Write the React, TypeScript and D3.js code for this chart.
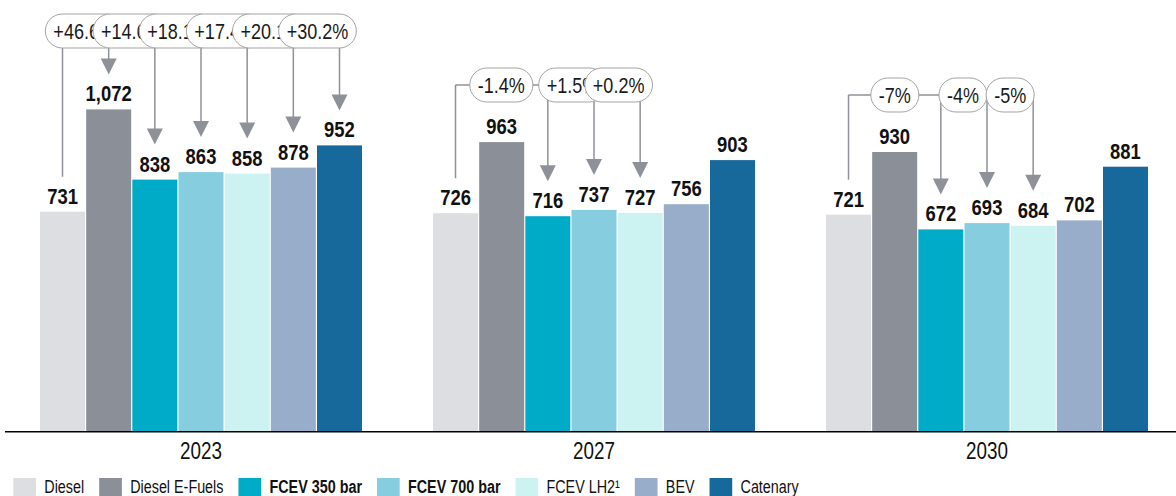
import React, { useRef, useEffect } from 'react'
import * as d3 from 'd3'

// cost per vehicle type and year
const years = ['2023', '2027', '2030']
const series = ['Diesel', 'Diesel E-Fuels', 'FCEV 350 bar', 'FCEV 700 bar', 'FCEV LH2', 'BEV', 'Catenary']
const legendLabels = ['Diesel', 'Diesel E-Fuels', 'FCEV 350 bar', 'FCEV 700 bar', 'FCEV LH2¹', 'BEV', 'Catenary']
const boldLegend = [false, false, true, true, false, false, false]
const colors = ['#dddee2', '#8b9098', '#00abc8', '#87cde0', '#ccf2f1', '#97adc9', '#17699b']

const values2023 = [731, 1072, 838, 863, 858, 878, 952]
const values2027 = [726, 963, 716, 737, 727, 756, 903]
const values2030 = [721, 930, 672, 693, 684, 702, 881]

// change vs. Diesel
const deltas2023 = ['+46.6%', '+14.6%', '+18.1%', '+17.4%', '+20.1%', '+30.2%']
const targets2023 = ['Diesel E-Fuels', 'FCEV 350 bar', 'FCEV 700 bar', 'FCEV LH2', 'BEV', 'Catenary']
const deltas2027 = ['-1.4%', '+1.5%', '+0.2%']
const targets2027 = ['FCEV 350 bar', 'FCEV 700 bar', 'FCEV LH2']
const deltas2030 = ['-7%', '-4%', '-5%']
const targets2030 = ['FCEV 350 bar', 'FCEV 700 bar', 'FCEV LH2']

// no narrow font installed, so squeeze Liberation Sans horizontally
const FONT = "'Liberation Sans', Arial, sans-serif"
const SQ = 0.82

export default function App() {
  const ref = useRef<SVGSVGElement>(null)

  useEffect(() => {
    const W = 1176, H = 496, base = 431
    const svg = d3.select(ref.current)
    svg.selectAll('*').remove()
    svg.attr('width', W).attr('height', H).style('font-family', FONT)

    const narrow = (sel: any, x: number, y: number) =>
      sel.attr('transform', `translate(${x},${y}) scale(${SQ},1)`)

    const valuesByYear = [values2023, values2027, values2030]
    const deltasByYear = [deltas2023, deltas2027, deltas2030]
    const targetsByYear = [targets2023, targets2027, targets2030]
    // pill layout per year: centre y and x offset from target bar centre
    const pillY = [31, 85, 95]
    const pillDx = [[-24.5, -23, -23, -22, -22, -22], [-46.5, -21.5, -21.5], [-46, -24, -23]]

    const x0 = d3.scaleBand().domain(years).range([0, 1188]).paddingInner(0.1807).paddingOuter(0.1018)
    const x1 = d3.scaleBand().domain(series).range([0, x0.bandwidth()]).paddingInner(0.025)
    const y = d3.scaleLinear().domain([0, 1000]).range([base, base - 300])

    const groups = svg.selectAll('g.year').data(years).join('g')
      .attr('class', 'year')
      .attr('transform', d => `translate(${x0(d)},0)`)

    groups.selectAll('rect').data((d, i) => valuesByYear[i].map((v, j) => ({ s: series[j], v })))
      .join('rect')
      .attr('x', d => x1(d.s)!)
      .attr('y', d => y(d.v))
      .attr('width', x1.bandwidth())
      .attr('height', d => base - y(d.v))
      .attr('fill', (d, j) => colors[j])

    groups.selectAll('text.val').data((d, i) => valuesByYear[i].map((v, j) => ({ s: series[j], v })))
      .join('text')
      .attr('class', 'val')
      .attr('transform', d => `translate(${x1(d.s)! + x1.bandwidth() / 2},${y(d.v) - 8}) scale(${SQ},1)`)
      .attr('text-anchor', 'middle')
      .attr('font-size', 22.5)
      .attr('font-weight', 'bold')
      .attr('fill', '#111')
      .text(d => d3.format(',')(d.v))

    // annotation brackets
    const lineColor = '#8e9298'
    groups.each(function (yr, i) {
      const g = d3.select(this)
      const py = pillY[i]
      const vals = valuesByYear[i]
      const cx = (s: string) => x1(s)! + x1.bandwidth() / 2
      const dieselX = cx('Diesel')
      const targets = targetsByYear[i]
      const lastX = cx(targets[targets.length - 1])

      g.append('line').attr('x1', dieselX).attr('x2', lastX).attr('y1', py).attr('y2', py)
        .attr('stroke', lineColor).attr('stroke-width', 1.5)
      g.append('line').attr('x1', dieselX).attr('x2', dieselX).attr('y1', py).attr('y2', y(vals[0]) - 35)
        .attr('stroke', lineColor).attr('stroke-width', 1.5)

      targets.forEach(t => {
        const tx = cx(t)
        const tip = y(vals[series.indexOf(t)]) - 35
        g.append('line').attr('x1', tx).attr('x2', tx).attr('y1', py).attr('y2', tip - 15)
          .attr('stroke', lineColor).attr('stroke-width', 1.5)
        g.append('path')
          .attr('d', `M${tx - 8},${tip - 16}L${tx + 8},${tip - 16}L${tx},${tip}Z`)
          .attr('fill', lineColor)
      })

      deltasByYear[i].forEach((lab, k) => {
        const pcx = cx(targets[k]) + pillDx[i][k]
        const pg = g.append('g')
        const rect = pg.append('rect')
        const txt = pg.append('text')
          .attr('text-anchor', 'middle')
          .attr('font-size', 22)
          .attr('fill', '#1a1a1a')
          .text(lab)
        narrow(txt, pcx, py + 7.8)
        const tw = (txt.node() as SVGTextElement).getComputedTextLength() * SQ
        const pw = tw + 16, ph = 34
        rect.attr('x', pcx - pw / 2).attr('y', py - ph / 2)
          .attr('width', pw).attr('height', ph)
          .attr('rx', ph / 2).attr('ry', ph / 2)
          .attr('fill', '#fff').attr('stroke', '#a3a3a3').attr('stroke-width', 1)
      })
    })

    // x axis
    svg.append('line').attr('x1', 5).attr('x2', W).attr('y1', base + 0.75).attr('y2', base + 0.75)
      .attr('stroke', '#000').attr('stroke-width', 1.5)
    svg.selectAll('text.year').data(years).join('text')
      .attr('class', 'year')
      .attr('transform', d => `translate(${x0(d)! + x0.bandwidth() / 2},459) scale(${SQ},1)`)
      .attr('text-anchor', 'middle')
      .attr('font-size', 23)
      .attr('fill', '#111')
      .text(d => d)

    // legend
    const leg = svg.append('g')
    let lx = 13.3
    legendLabels.forEach((lab, i) => {
      leg.append('rect').attr('x', lx).attr('y', 478).attr('width', 22.7).attr('height', 18).attr('fill', colors[i])
      const t = leg.append('text')
        .attr('font-size', 17.5)
        .attr('font-weight', boldLegend[i] ? 'bold' : 'normal')
        .attr('fill', '#111')
        .text(lab)
      narrow(t, lx + 31, 493)
      lx += 31 + (t.node() as SVGTextElement).getComputedTextLength() * SQ + 15
    })
  }, [])

  return (
    <div style={{ position: 'absolute', left: 0, top: 0 }}>
      <svg ref={ref} />
    </div>
  )
}
